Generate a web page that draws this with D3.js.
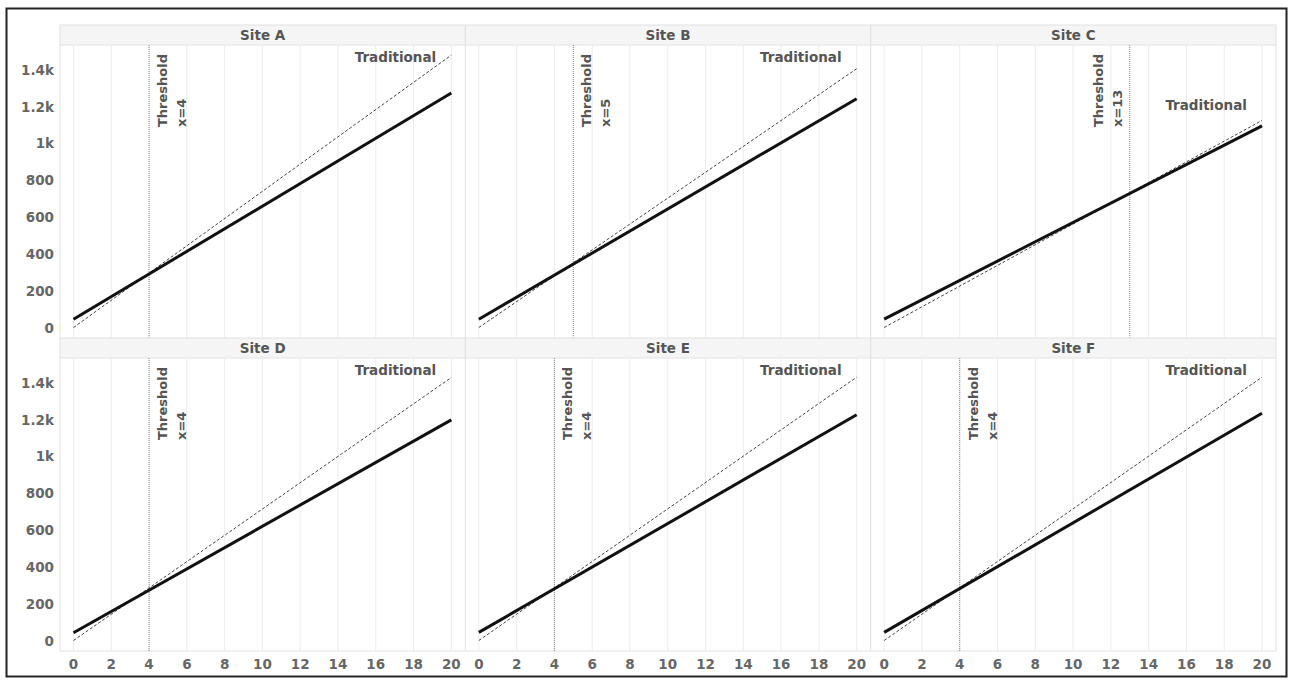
<!DOCTYPE html>
<html>
<head>
<meta charset="utf-8">
<script src="https://cdn.jsdelivr.net/npm/d3@7"></script>
<style>
  body { margin: 0; background: #fff; }
  text { font-family: "DejaVu Sans", Verdana, sans-serif; font-weight: bold; }
</style>
</head>
<body>
<svg id="chart" width="1293" height="682"></svg>
<script>
// chart data
let sites = ['Site A', 'Site B', 'Site C', 'Site D', 'Site E', 'Site F'];
let thresholds = [4, 5, 13, 4, 4, 4];
let xEnds = [0, 20];
let proposedStart = [45, 45, 46, 42, 44, 44];
let proposedEnd = [1274, 1243, 1096, 1199, 1227, 1235];
let traditionalStart = [0, 0, 0, 0, 0, 0];
let traditionalEnd = [1480, 1406, 1125, 1429, 1431, 1431];
let xTicks = [0, 2, 4, 6, 8, 10, 12, 14, 16, 18, 20];
let yTicks = [0, 200, 400, 600, 800, 1000, 1200, 1400];
let yTickLabels = ['0', '200', '400', '600', '800', '1k', '1.2k', '1.4k'];

let svg = d3.select('#chart');
let left = 60, right = 1276;
let panelW = (right - left) / 3;
let rows = [{ head: 25, top: 45, bottom: 338 }, { head: 338, top: 358, bottom: 651 }];

let x = d3.scaleLinear().domain([0, 20]);
let line = d3.line();

// outer frame
svg.append('rect')
  .attr('x', 6.5).attr('y', 8.5)
  .attr('width', 1280).attr('height', 668)
  .attr('fill', 'none')
  .attr('stroke', '#222')
  .attr('stroke-width', 2);

sites.forEach((site, i) => {
  let col = i % 3, row = rows[Math.floor(i / 3)];
  let x0 = left + col * panelW;
  x.range([x0 + 13.5, x0 + panelW - 14]);
  let y = d3.scaleLinear().domain([-57, 1535]).range([row.bottom, row.top]);
  let g = svg.append('g').attr('class', 'panel');

  // header strip
  g.append('rect')
    .attr('x', x0).attr('y', row.head)
    .attr('width', panelW).attr('height', row.top - row.head)
    .attr('fill', '#f5f5f5')
    .attr('stroke', '#e2e2e2');
  g.append('text')
    .attr('x', x0 + panelW / 2).attr('y', (row.head + row.top) / 2)
    .attr('text-anchor', 'middle')
    .attr('dominant-baseline', 'central')
    .style('font-size', '13.5px')
    .style('fill', '#555')
    .text(site);

  // vertical gridlines
  g.selectAll('.grid')
    .data(xTicks).enter()
    .append('line')
    .attr('class', 'grid')
    .attr('x1', d => x(d)).attr('x2', d => x(d))
    .attr('y1', row.top).attr('y2', row.bottom)
    .attr('stroke', '#ececec');

  // panel separator
  g.append('line')
    .attr('x1', x0 + panelW).attr('x2', x0 + panelW)
    .attr('y1', row.top).attr('y2', row.bottom)
    .attr('stroke', '#e2e2e2');
  if (col == 0) {
    g.append('line')
      .attr('x1', x0).attr('x2', x0)
      .attr('y1', row.top).attr('y2', row.bottom)
      .attr('stroke', '#e2e2e2');
  }

  // y axis labels on first column
  if (col == 0) {
    g.selectAll('.ytick')
      .data(yTicks).enter()
      .append('text')
      .attr('class', 'ytick')
      .attr('x', 54)
      .attr('y', d => y(d))
      .attr('text-anchor', 'end')
      .attr('dominant-baseline', 'central')
      .style('font-size', '13.5px')
      .style('fill', '#666')
      .text((d, k) => yTickLabels[k]);
  }

  // x axis on bottom row
  if (row === rows[1]) {
    g.append('line')
      .attr('x1', x0).attr('x2', x0 + panelW)
      .attr('y1', row.bottom).attr('y2', row.bottom)
      .attr('stroke', '#e2e2e2');
    g.selectAll('.xtick')
      .data(xTicks).enter()
      .append('text')
      .attr('class', 'xtick')
      .attr('x', d => x(d))
      .attr('y', 664)
      .attr('text-anchor', 'middle')
      .attr('dominant-baseline', 'central')
      .style('font-size', '13.5px')
      .style('fill', '#666')
      .text(d => d);
  }

  // threshold line + label (label goes left of the line when it sits far right)
  let tx = x(thresholds[i]);
  g.append('line')
    .attr('x1', tx).attr('x2', tx)
    .attr('y1', row.top).attr('y2', row.bottom)
    .attr('stroke', '#888')
    .attr('stroke-dasharray', '1,1');
  let onLeft = thresholds[i] > 10;
  let lab = g.append('text')
    .attr('transform', 'translate(' + tx + ',' + (row.top + 82) + ') rotate(-90)')
    .style('font-size', '13px')
    .style('fill', '#555');
  lab.append('tspan').attr('x', 0).attr('y', onLeft ? -27 : 18).text('Threshold');
  lab.append('tspan').attr('x', 0).attr('y', onLeft ? -8 : 37).text('x=' + thresholds[i]);

  // traditional (dashed) and proposed (solid) lines
  let trad = xEnds.map((d, k) => [x(d), y(k ? traditionalEnd[i] : traditionalStart[i])]);
  let prop = xEnds.map((d, k) => [x(d), y(k ? proposedEnd[i] : proposedStart[i])]);
  g.append('path')
    .attr('d', line(trad))
    .attr('fill', 'none')
    .attr('stroke', '#444')
    .attr('stroke-width', 1)
    .attr('stroke-dasharray', '3,2');
  g.append('path')
    .attr('d', line(prop))
    .attr('fill', 'none')
    .attr('stroke', '#111')
    .attr('stroke-width', 3);

  // "Traditional" label near the end of the dashed line
  let endY = trad[1][1];
  g.append('text')
    .attr('x', x(19.2))
    .attr('y', Math.max(row.top + 12, endY - 15))
    .attr('text-anchor', 'end')
    .attr('dominant-baseline', 'central')
    .style('font-size', '13.5px')
    .style('fill', '#555')
    .text('Traditional');
});
</script>
</body>
</html>
